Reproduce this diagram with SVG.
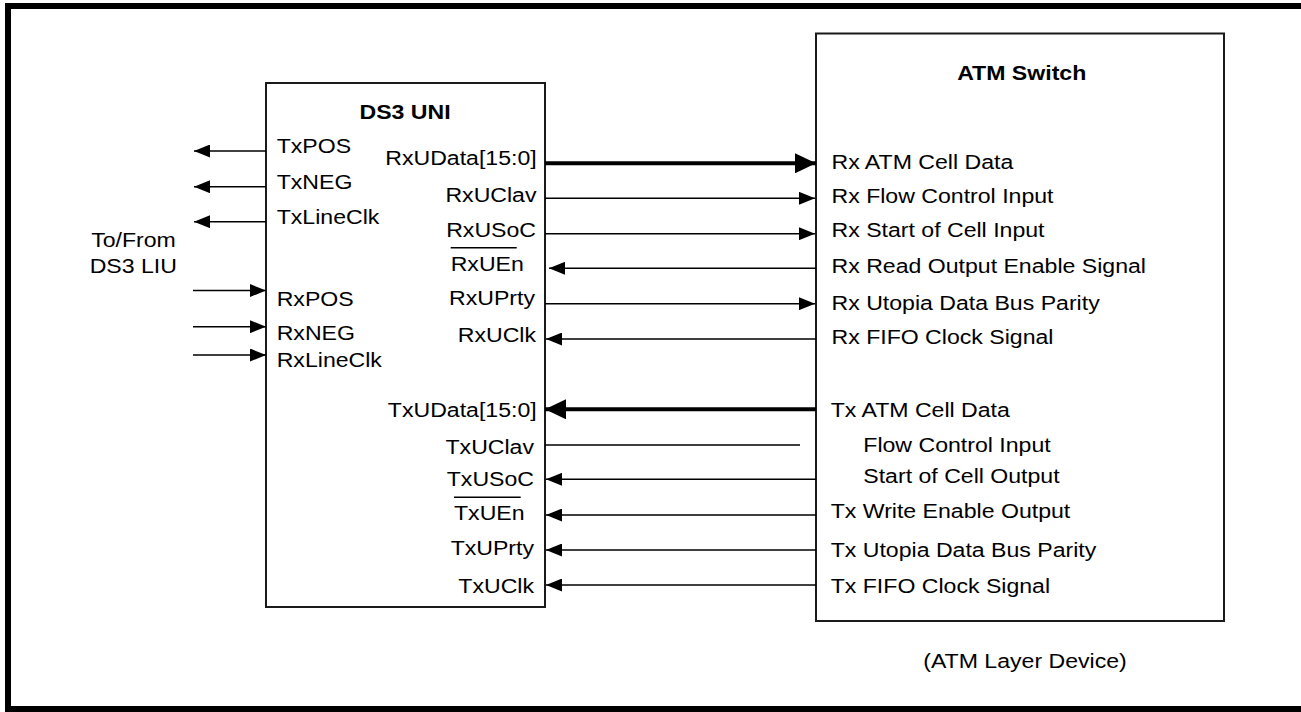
<svg xmlns="http://www.w3.org/2000/svg" width="1301" height="712" viewBox="0 0 1301 712">
<style>
.t{font-family:"Liberation Sans",Arial,sans-serif;font-size:21px;fill:#000}
.b{font-weight:bold}
.e{text-anchor:end}
.m{text-anchor:middle}
.box{fill:#fff;stroke:#1a1a1a;stroke-width:2}
.w{stroke:#000;stroke-width:1.6;fill:none}
.k{stroke:#000;stroke-width:4;fill:none}
.ov{stroke:#000;stroke-width:1.5}
</style>
<defs>
<marker id="a" markerUnits="userSpaceOnUse" markerWidth="16" markerHeight="13" refX="16" refY="6.5" orient="auto"><path d="M0,0 L16,6.5 L0,13 z" fill="#000"/></marker>
<marker id="A" markerUnits="userSpaceOnUse" markerWidth="21" markerHeight="20" refX="21" refY="10" orient="auto"><path d="M0,0 L21,10 L0,20 z" fill="#000"/></marker>
</defs>
<rect width="1301" height="712" fill="#fff"/>
<rect id="frame" x="8" y="6" width="1300" height="703" fill="none" stroke="#000" stroke-width="6"/>

<g id="ds3uni">
<rect class="box" x="266" y="83" width="279" height="524"/>
<text class="t b m" transform="translate(405,119) scale(1.1,1)">DS3 UNI</text>
<text class="t" transform="translate(276.7,153.3) scale(1.1,1)">TxPOS</text>
<text class="t" transform="translate(276.7,189.3) scale(1.1,1)">TxNEG</text>
<text class="t" transform="translate(276.7,224) scale(1.1,1)">TxLineClk</text>
<text class="t" transform="translate(276.7,306) scale(1.1,1)">RxPOS</text>
<text class="t" transform="translate(276.7,340) scale(1.1,1)">RxNEG</text>
<text class="t" transform="translate(276.7,366.7) scale(1.1,1)">RxLineClk</text>
<text class="t e" transform="translate(536.7,165) scale(1.1,1)">RxUData[15:0]</text>
<text class="t e" transform="translate(536.5,201.5) scale(1.1,1)">RxUClav</text>
<text class="t e" transform="translate(536,236.7) scale(1.1,1)">RxUSoC</text>
<line class="ov" x1="450.7" y1="247.7" x2="516.7" y2="247.7"/>
<text class="t" transform="translate(450.7,270.7) scale(1.1,1)">RxUEn</text>
<text class="t e" transform="translate(535,305) scale(1.1,1)">RxUPrty</text>
<text class="t e" transform="translate(536,341.7) scale(1.1,1)">RxUClk</text>
<text class="t e" transform="translate(536.7,417) scale(1.1,1)">TxUData[15:0]</text>
<text class="t e" transform="translate(534,454) scale(1.1,1)">TxUClav</text>
<text class="t e" transform="translate(534,486) scale(1.1,1)">TxUSoC</text>
<line class="ov" x1="454" y1="497.3" x2="520.7" y2="497.3"/>
<text class="t" transform="translate(454,520) scale(1.1,1)">TxUEn</text>
<text class="t e" transform="translate(534,555) scale(1.1,1)">TxUPrty</text>
<text class="t e" transform="translate(534,593) scale(1.1,1)">TxUClk</text>
</g>

<g id="atmswitch">
<rect class="box" x="816" y="33.5" width="408" height="587.5"/>
<text class="t b m" transform="translate(1021.7,80) scale(1.1,1)">ATM Switch</text>
<text class="t" transform="translate(831.5,169.3) scale(1.1,1)">Rx ATM Cell Data</text>
<text class="t" transform="translate(831.5,203.3) scale(1.1,1)">Rx Flow Control Input</text>
<text class="t" transform="translate(831.5,236.7) scale(1.1,1)">Rx Start of Cell Input</text>
<text class="t" transform="translate(831.5,272.7) scale(1.1,1)">Rx Read Output Enable Signal</text>
<text class="t" transform="translate(831.5,310) scale(1.1,1)">Rx Utopia Data Bus Parity</text>
<text class="t" transform="translate(831.5,344) scale(1.1,1)">Rx FIFO Clock Signal</text>
<text class="t" transform="translate(830.7,416.7) scale(1.1,1)">Tx ATM Cell Data</text>
<text class="t" transform="translate(863.3,451.5) scale(1.1,1)">Flow Control Input</text>
<text class="t" transform="translate(863.3,483.3) scale(1.1,1)">Start of Cell Output</text>
<text class="t" transform="translate(830.7,518.3) scale(1.1,1)">Tx Write Enable Output</text>
<text class="t" transform="translate(830.7,556.7) scale(1.1,1)">Tx Utopia Data Bus Parity</text>
<text class="t" transform="translate(830.7,593) scale(1.1,1)">Tx FIFO Clock Signal</text>
</g>

<g id="atmlayer">
<text class="t m" transform="translate(1025,668) scale(1.1,1)">(ATM Layer Device)</text>
</g>

<g id="liu">
<text class="t m" transform="translate(133.5,246.7) scale(1.1,1)">To/From</text>
<text class="t m" transform="translate(133.3,273) scale(1.1,1)">DS3 LIU</text>
</g>

<g id="connectors">
<line class="w" x1="266" y1="151" x2="194" y2="151" marker-end="url(#a)"/>
<line class="w" x1="266" y1="186.7" x2="194" y2="186.7" marker-end="url(#a)"/>
<line class="w" x1="266" y1="221.7" x2="194" y2="221.7" marker-end="url(#a)"/>
<line class="w" x1="193" y1="290.5" x2="266" y2="290.5" marker-end="url(#a)"/>
<line class="w" x1="193" y1="326.7" x2="266" y2="326.7" marker-end="url(#a)"/>
<line class="w" x1="193" y1="355" x2="266" y2="355" marker-end="url(#a)"/>

<line class="k" x1="545" y1="163.3" x2="816" y2="163.3" marker-end="url(#A)"/>
<line class="w" x1="545" y1="198.3" x2="815" y2="198.3" marker-end="url(#a)"/>
<line class="w" x1="545" y1="233.7" x2="815" y2="233.7" marker-end="url(#a)"/>
<line class="w" x1="816" y1="268.3" x2="549" y2="268.3" marker-end="url(#a)"/>
<line class="w" x1="545" y1="303.7" x2="815" y2="303.7" marker-end="url(#a)"/>
<line class="w" x1="816" y1="339" x2="546" y2="339" marker-end="url(#a)"/>

<line class="k" x1="816" y1="409.3" x2="545" y2="409.3" marker-end="url(#A)"/>
<line class="w" x1="545" y1="445" x2="800" y2="445"/>
<line class="w" x1="816" y1="479.3" x2="546" y2="479.3" marker-end="url(#a)"/>
<line class="w" x1="816" y1="515" x2="546" y2="515" marker-end="url(#a)"/>
<line class="w" x1="816" y1="550" x2="546" y2="550" marker-end="url(#a)"/>
<line class="w" x1="816" y1="585" x2="546" y2="585" marker-end="url(#a)"/>
</g>
</svg>
